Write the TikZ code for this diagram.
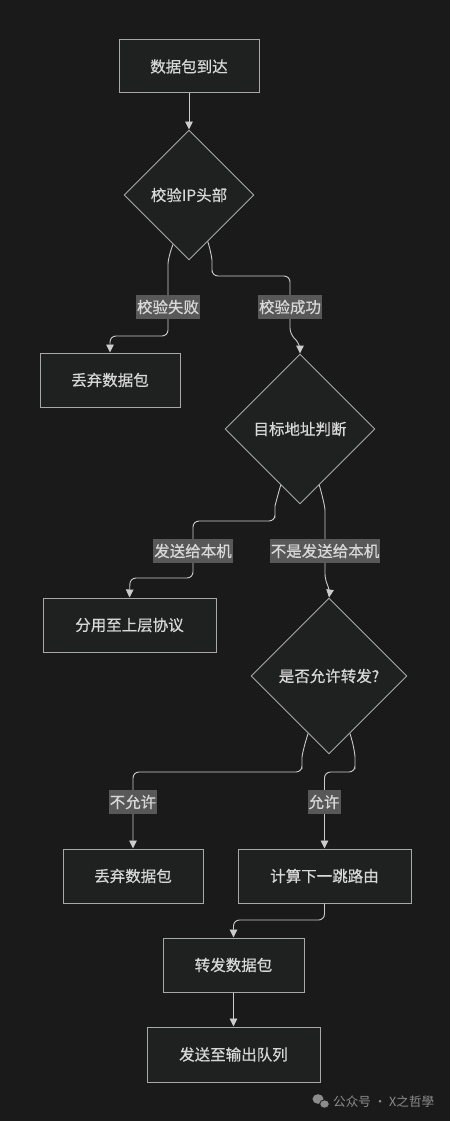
\documentclass[tikz,border=0pt]{standalone}
\usepackage{fontspec}
\newfontfamily\cjk[FakeBold=0.5]{Noto Sans CJK SC}
\newfontfamily\cjkw{Noto Sans CJK SC}
\usetikzlibrary{shapes.geometric,arrows.meta}
\definecolor{bg}{HTML}{1A1A1A}
\definecolor{nodefill}{HTML}{1F2020}
\definecolor{nodeborder}{HTML}{A8A8A8}
\definecolor{txt}{HTML}{D8D8D8}
\definecolor{lbl}{HTML}{585858}
\definecolor{edgec}{HTML}{CCCCCC}
\definecolor{wm}{HTML}{8C8C8C}
\begin{document}
\begin{tikzpicture}[x=1pt,y=-1pt,
  nfont/.style={font=\cjk\fontsize{15.5}{18}\selectfont},
  box/.style={nfont,draw=nodeborder,fill=nodefill,line width=1pt,text=txt,inner sep=0pt},
  dia/.style={nfont,diamond,aspect=1,draw=nodeborder,fill=nodefill,line width=0.9pt,text=txt,inner sep=0pt},
  edge/.style={draw=edgec,line width=0.9pt,rounded corners=6pt,-{Triangle[length=8pt,width=7.5pt]}},
  lab/.style={nfont,fill=lbl,text=txt,inner xsep=1pt,inner ysep=0pt,minimum height=24pt}]
\useasboundingbox[fill=bg] (0,0) rectangle (450,1121);

% nodes
\node[box,minimum width=140pt,minimum height=53pt] (A) at (189,66.5) {数据包到达};
\node[dia,minimum width=130pt,minimum height=130pt] (B) at (189,195) {校验IP头部};
\node[box,minimum width=140pt,minimum height=54pt] (C) at (110,380) {丢弃数据包};
\node[dia,minimum width=150pt,minimum height=150pt] (D) at (300,429) {目标地址判断};
\node[box,minimum width=173pt,minimum height=54pt] (F) at (129.5,625) {分用至上层协议};
\node[dia,minimum width=156pt,minimum height=156pt] (E) at (329,676) {是否允许转发?};
\node[box,minimum width=140pt,minimum height=54pt] (G) at (133,876) {丢弃数据包};
\node[box,minimum width=173pt,minimum height=54pt] (H) at (324.5,876) {计算下一跳路由};
\node[box,minimum width=141pt,minimum height=54pt] (I) at (233.5,965) {转发数据包};
\node[box,minimum width=173pt,minimum height=55pt] (J) at (233.5,1054.5) {发送至输出队列};

% edges
\draw[edge] (A.south) -- (B.north);
\draw[edge] (B.252) .. controls (169,255) and (168,262) .. (168,270) -- (168,336) -- (110,336) -- (C.north);
\draw[edge] (B.292) .. controls (211,252) and (212,260) .. (212,266) -- (212,276) -- (290,276) -- (290,334) -- (300,344) -- (D.north);
\draw[edge] (D.251) .. controls (277,498) and (275,506) .. (275,512) -- (275,521) -- (193,521) -- (193,578) -- (130,578) -- (F.north);
\draw[edge] (D.289) .. controls (323,498) and (325,508) .. (325,516) -- (325,580) -- (330,590) -- (E.north);
\draw[edge] (E.250) .. controls (304,746) and (302,756) .. (302,763) -- (302,772) -- (133,772) -- (G.north);
\draw[edge] (E.290) .. controls (354,746) and (355,756) .. (355,763) -- (355,772) -- (324.5,772) -- (H.north);
\draw[edge] (H.south) -- (324.5,920) -- (233.5,920) -- (I.north);
\draw[edge] (I.south) -- (J.north);

% edge labels
\node[lab] (l1) at (168,307) {校验失败};
\node[lab] (l2) at (290,307) {校验成功};
\node[lab] (l3) at (193,551) {发送给本机};
\node[lab] (l4) at (325,551) {不是发送给本机};
\node[lab] (l5) at (133,802) {不允许};
\node[lab] (l6) at (324,802) {允许};

% watermark
\fill[wm] (318,1099) ellipse (5.5pt and 4.8pt);
\fill[wm,draw=bg,line width=0.8pt] (324.5,1104) ellipse (4.8pt and 4.2pt);
\node[font=\cjkw\fontsize{12.6}{14}\selectfont,text=wm,inner sep=0pt,anchor=west] (wmt) at (333,1101.5) {公众号 · X之哲學};
\end{tikzpicture}
\end{document}
